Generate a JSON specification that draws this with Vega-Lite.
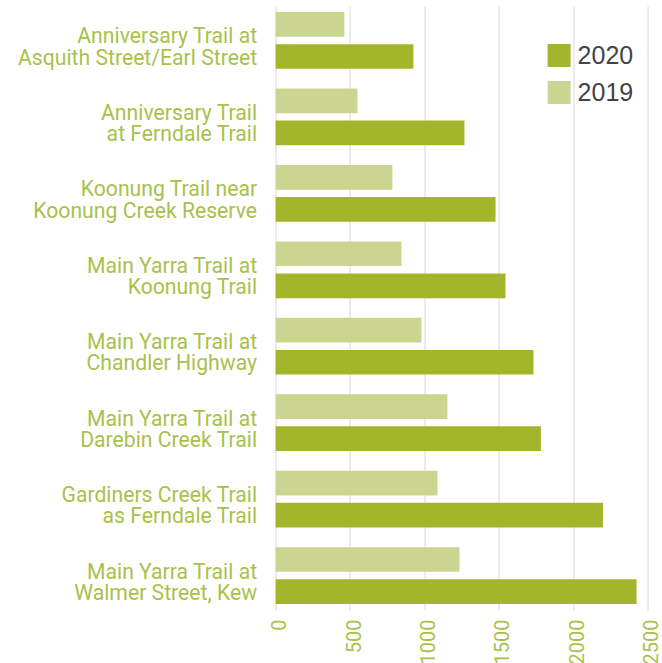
{
  "$schema": "https://vega.github.io/schema/vega-lite/v6.json",
  "width": 372,
  "height": 604,
  "autosize": {"type": "none"},
  "padding": {"left": 275.6, "top": 6, "right": 14.4, "bottom": 53},
  "background": "white",
  "data": {
    "values": [
      {"trail": "Anniversary Trail at\nAsquith Street/Earl Street", "year": "2019", "count": 462},
      {"trail": "Anniversary Trail at\nAsquith Street/Earl Street", "year": "2020", "count": 926},
      {"trail": "Anniversary Trail\nat Ferndale Trail", "year": "2019", "count": 550},
      {"trail": "Anniversary Trail\nat Ferndale Trail", "year": "2020", "count": 1269},
      {"trail": "Koonung Trail near\nKoonung Creek Reserve", "year": "2019", "count": 785},
      {"trail": "Koonung Trail near\nKoonung Creek Reserve", "year": "2020", "count": 1478},
      {"trail": "Main Yarra Trail at\nKoonung Trail", "year": "2019", "count": 846},
      {"trail": "Main Yarra Trail at\nKoonung Trail", "year": "2020", "count": 1545},
      {"trail": "Main Yarra Trail at\nChandler Highway", "year": "2019", "count": 980},
      {"trail": "Main Yarra Trail at\nChandler Highway", "year": "2020", "count": 1733},
      {"trail": "Main Yarra Trail at\nDarebin Creek Trail", "year": "2019", "count": 1155},
      {"trail": "Main Yarra Trail at\nDarebin Creek Trail", "year": "2020", "count": 1783},
      {"trail": "Gardiners Creek Trail\nas Ferndale Trail", "year": "2019", "count": 1088},
      {"trail": "Gardiners Creek Trail\nas Ferndale Trail", "year": "2020", "count": 2200},
      {"trail": "Main Yarra Trail at\nWalmer Street, Kew", "year": "2019", "count": 1236},
      {"trail": "Main Yarra Trail at\nWalmer Street, Kew", "year": "2020", "count": 2426}
    ]
  },
  "mark": {"type": "bar"},
  "encoding": {
    "y": {
      "field": "trail",
      "type": "nominal",
      "sort": null,
      "scale": {"paddingInner": 0.258, "paddingOuter": 0.08},
      "axis": {
        "title": null,
        "domain": false,
        "ticks": false,
        "tickSize": 0,
        "labelPadding": 19,
        "labelFont": "Roboto",
        "labelFontSize": 21.2,
        "labelColor": "#a9c14b",
        "labelLineHeight": 21.2,
        "labelOffset": -3,
        "labelLimit": 300,
        "labelExpr": "split(datum.label, '\\n')"
      }
    },
    "yOffset": {
      "field": "year",
      "type": "nominal",
      "sort": ["2019", "2020"],
      "scale": {"paddingInner": 0.23, "paddingOuter": 0}
    },
    "x": {
      "field": "count",
      "type": "quantitative",
      "scale": {"domain": [0, 2500], "nice": false},
      "axis": {
        "title": null,
        "values": [0, 500, 1000, 1500, 2000, 2500],
        "format": "d",
        "labelAngle": -90,
        "domain": false,
        "ticks": false,
        "tickSize": 0,
        "labelPadding": 9,
        "labelOffset": 4,
        "grid": true,
        "gridColor": "#e5e5e5",
        "gridWidth": 1.5,
        "labelFont": "Roboto",
        "labelFontSize": 20,
        "labelColor": "#a9c14b"
      }
    },
    "color": {
      "field": "year",
      "type": "nominal",
      "scale": {"domain": ["2020", "2019"], "range": ["#a3b52a", "#cbd590"]},
      "legend": {
        "title": null,
        "orient": "none",
        "legendX": 271,
        "legendY": 37,
        "padding": 0,
        "symbolType": "square",
        "symbolSize": 529,
        "symbolStrokeWidth": 0,
        "labelFont": "Liberation Sans",
        "labelFontSize": 25,
        "labelColor": "#444444",
        "labelOffset": 6,
        "rowPadding": 11
      }
    }
  },
  "config": {"view": {"stroke": null}}
}
